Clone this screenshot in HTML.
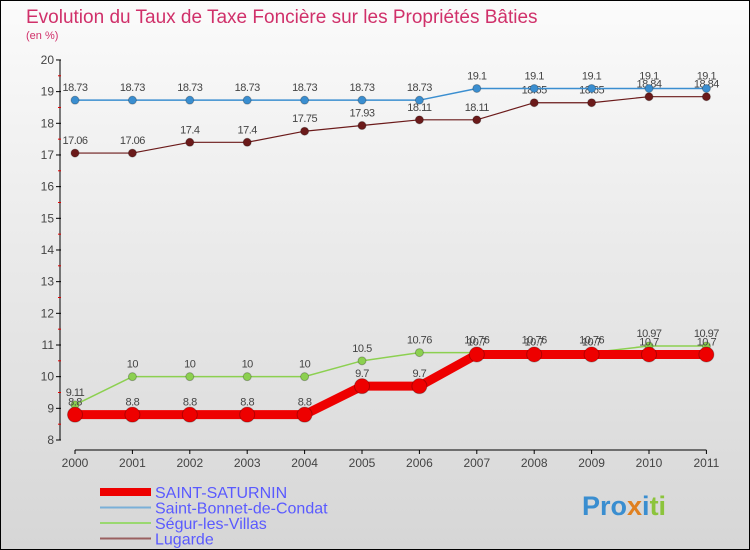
<!DOCTYPE html>
<html><head><meta charset="utf-8"><style>
body{margin:0;}
#c{width:750px;height:550px;position:relative;overflow:hidden;font-family:"Liberation Sans",sans-serif;}
</style></head><body>
<div id="c">
<svg id="s" width="750" height="550" xmlns="http://www.w3.org/2000/svg">
<defs><linearGradient id="bg" x1="0" y1="0" x2="0" y2="1"><stop offset="0" stop-color="#fbfbfb"/><stop offset="1" stop-color="#d6d6d6"/></linearGradient></defs>
<rect x="0.5" y="0.5" width="749" height="549" fill="url(#bg)" stroke="#000"/>
<text x="26" y="23" font-size="19" fill="#d0306a">Evolution du Taux de Taxe Foncière sur les Propriétés Bâties</text>
<text x="26" y="39" font-size="11" fill="#d0306a">(en %)</text>
<g id="axes"></g><g id="series"></g><g id="legend"></g>
<text x="582" y="515" font-size="27" font-weight="bold" fill="#3a8ed0">Pro<tspan fill="#e08020">x</tspan><tspan fill="#3a8ed0">i</tspan><tspan fill="#8cc43c">ti</tspan></text>
</svg></div>
<script>
const years=["2000","2001","2002","2003","2004","2005","2006","2007","2008","2009","2010","2011"];
const yTicks=[8,9,10,11,12,13,14,15,16,17,18,19,20];
const saint=[8.8,8.8,8.8,8.8,8.8,9.7,9.7,10.7,10.7,10.7,10.7,10.7];
const bonnet=[18.73,18.73,18.73,18.73,18.73,18.73,18.73,19.1,19.1,19.1,19.1,19.1];
const segur=[9.11,10,10,10,10,10.5,10.76,10.76,10.76,10.76,10.97,10.97];
const lugarde=[17.06,17.06,17.4,17.4,17.75,17.93,18.11,18.11,18.65,18.65,18.84,18.84];
const NS="http://www.w3.org/2000/svg";
const X=i=>75+i*57.4;
const Y=v=>440-(v-8)*31.67;
function mk(t,a,p){const e=document.createElementNS(NS,t);for(const k in a)e.setAttribute(k,a[k]);p.appendChild(e);return e;}
const ax=document.getElementById('axes');
let l=mk('line',{x1:60,y1:Y(20),x2:60,y2:Y(8),stroke:'#000'},ax);


yTicks.forEach(v=>{
 mk('line',{x1:56,y1:Y(v),x2:61,y2:Y(v),stroke:'#000'},ax);
 if(v<20)mk('line',{x1:58,y1:Y(v+0.5),x2:61,y2:Y(v+0.5),stroke:'#e00000'},ax);
 const t=mk('text',{x:54,y:Y(v)+4,'font-size':12,'text-anchor':'end',fill:'#444'},ax);t.textContent=v;
 
 
});
l=mk('line',{x1:X(0),y1:450,x2:X(11),y2:450,stroke:'#000'},ax);


years.forEach((y,i)=>{
 mk('line',{x1:X(i),y1:450,x2:X(i),y2:454,stroke:'#000'},ax);
 const t=mk('text',{x:X(i),y:467,'font-size':12,'text-anchor':'middle',fill:'#444'},ax);t.textContent=y;
 
 
});
const sg=document.getElementById('series');
function draw(d,col,w,r,name,lbl){
 const g=mk('g',{},sg);
 
 
 mk('polyline',{points:d.map((v,i)=>X(i)+','+Y(v)).join(' '),fill:'none',stroke:col,'stroke-width':w},g);
 d.forEach((v,i)=>{
  const c=mk('circle',{cx:X(i),cy:Y(v),r:r,fill:col,stroke:'rgba(0,0,0,0.25)'},g);
  
  
  const t=mk('text',{x:X(i),y:Y(v)-9,'font-size':11,'text-anchor':'middle',fill:'#444','letter-spacing':'-0.5'},g);t.textContent=lbl?lbl[i]:v;
  
  
 });
}
draw(lugarde,'#6b1a1a',1.2,4,'series-lugarde');
draw(bonnet,'#3a8ed0',1.5,4,'series-saint-bonnet');
draw(segur,'#8cd050',1.5,4,'series-segur');
draw(saint,'#ee0000',9,7.5,'series-saint-saturnin');
const lg=document.getElementById('legend');
[['SAINT-SATURNIN','#ee0000',8],['Saint-Bonnet-de-Condat','#7ab0d8',2],['Ségur-les-Villas','#9ad870',2],['Lugarde','#9a6060',2]].forEach((e,i)=>{
 const y=492+i*15.5;
 const g=mk('g',{},lg);
 
 
 mk('line',{x1:100,y1:y,x2:151,y2:y,stroke:e[1],'stroke-width':e[2]},g);
 const t=mk('text',{x:155,y:y+6,'font-size':16,fill:'#5a5aff'},g);t.textContent=e[0];
});
</script>
</body></html>
